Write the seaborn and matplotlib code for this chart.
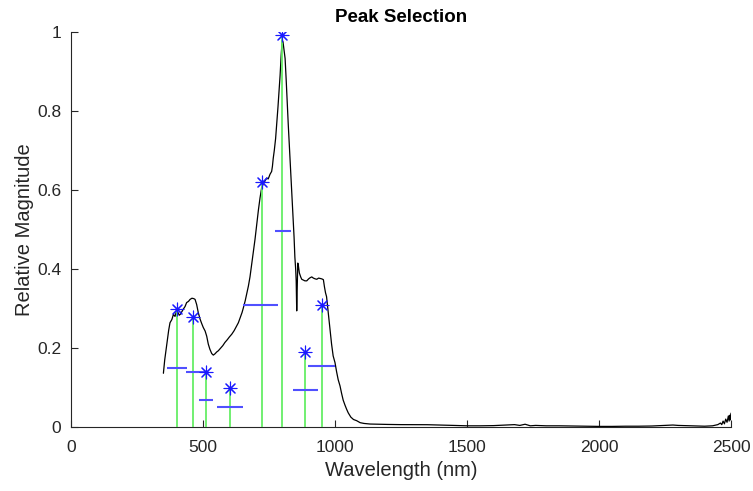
import matplotlib
matplotlib.use("Agg")
import matplotlib.pyplot as plt
import seaborn as sns
import pandas as pd

# spectrum
wavelength = [350, 355, 362, 370, 375, 382, 388, 394, 400, 405, 410, 415, 420, 425,
              432, 438, 445, 451, 458, 465, 470, 476, 482, 489, 495, 501, 508, 514,
              520, 526, 533, 539, 545, 552, 558, 566, 575, 583, 592, 600, 609, 618,
              626, 634, 642, 648, 653, 660, 666, 672, 678, 684, 690, 697, 703, 710,
              716, 722, 728, 734, 741, 747, 754, 760, 763, 766, 770, 775, 779, 784,
              788, 792, 796, 800, 803, 806, 811, 815, 819, 823, 828, 832, 836, 840,
              845, 848, 851, 853, 855, 857, 859, 861, 865, 870, 874, 880, 886, 893,
              900, 906, 912, 918, 925, 931, 938, 944, 950, 956, 960, 964, 968, 972,
              976, 981, 987, 993, 1000, 1006, 1012, 1019, 1025, 1031, 1038, 1044,
              1050, 1060, 1070, 1082, 1095, 1110, 1133, 1160, 1200, 1250, 1300, 1350,
              1400, 1450, 1500, 1550, 1600, 1650, 1680, 1700, 1720, 1740, 1760, 1800,
              1850, 1900, 1950, 2000, 2050, 2100, 2150, 2200, 2250, 2280, 2300, 2350,
              2400, 2430, 2450, 2460, 2465, 2470, 2475, 2480, 2485, 2490, 2493, 2496,
              2498, 2500]
magnitude = [0.136, 0.17, 0.205, 0.245, 0.264, 0.272, 0.285, 0.28, 0.294, 0.29, 0.283,
             0.286, 0.292, 0.298, 0.305, 0.315, 0.318, 0.323, 0.326, 0.325, 0.323, 0.31,
             0.29, 0.273, 0.262, 0.252, 0.243, 0.23, 0.21, 0.197, 0.186, 0.182, 0.185,
             0.19, 0.193, 0.199, 0.206, 0.214, 0.221, 0.228, 0.235, 0.244, 0.254, 0.264,
             0.279, 0.29, 0.302, 0.32, 0.338, 0.357, 0.38, 0.41, 0.44, 0.475, 0.51, 0.55,
             0.58, 0.605, 0.615, 0.622, 0.63, 0.628, 0.64, 0.647, 0.66, 0.68, 0.70, 0.73,
             0.765, 0.81, 0.85, 0.89, 0.94, 0.98, 0.975, 0.96, 0.933, 0.88, 0.82, 0.765,
             0.70, 0.65, 0.597, 0.54, 0.48, 0.43, 0.40, 0.37, 0.294, 0.35, 0.415, 0.41,
             0.39, 0.38, 0.374, 0.372, 0.37, 0.37, 0.375, 0.378, 0.38, 0.377, 0.375,
             0.374, 0.377, 0.376, 0.375, 0.373, 0.355, 0.34, 0.33, 0.305, 0.28, 0.247,
             0.21, 0.18, 0.163, 0.14, 0.12, 0.104, 0.085, 0.068, 0.055, 0.045, 0.036,
             0.025, 0.019, 0.016, 0.011, 0.009, 0.0075, 0.007, 0.0065, 0.006, 0.006,
             0.0058, 0.005, 0.004, 0.003, 0.003, 0.0035, 0.005, 0.006, 0.004, 0.007,
             0.003, 0.004, 0.003, 0.003, 0.0025, 0.002, 0.0015, 0.0015, 0.002, 0.002,
             0.0025, 0.004, 0.005, 0.004, 0.003, 0.002, 0.003, 0.006, 0.01, 0.006,
             0.015, 0.008, 0.02, 0.012, 0.028, 0.015, 0.03, 0.018, 0.035]

# selected peaks
peak_wl = [400, 463, 510, 602, 722, 800, 886, 950]
peak_mag = [0.298, 0.279, 0.138, 0.100, 0.620, 0.993, 0.190, 0.309]

# half-height widths
width_left = [362, 434, 486, 552, 652, 773, 840, 899]
width_right = [440, 520, 539, 653, 784, 833, 937, 1000]
width_height = [0.149, 0.139, 0.069, 0.050, 0.310, 0.496, 0.094, 0.155]

x_ticks = [0, 500, 1000, 1500, 2000, 2500]
y_ticks = [0, 0.2, 0.4, 0.6, 0.8, 1]
y_tick_labels = ["0", "0.2", "0.4", "0.6", "0.8", "1"]

sns.set_style("white")
plt.rcParams['font.family'] = ['Liberation Sans', 'DejaVu Sans']

spec = pd.DataFrame({'Wavelength': wavelength, 'Magnitude': magnitude})
peaks = pd.DataFrame({'Wavelength': peak_wl, 'Magnitude': peak_mag})

fig = plt.figure(figsize=(7.53, 4.91), dpi=100)
ax = fig.add_axes([71/753, 1 - 427/491, 660/753, 395/491])

sns.lineplot(data=spec, x='Wavelength', y='Magnitude', sort=False, color='black',
             linewidth=0.9, ax=ax, zorder=2)
ax.vlines(peak_wl, 0, peak_mag, color='#66ee66', linewidth=1.3, zorder=3)
ax.hlines(width_height, width_left, width_right, color='#5050ff', linewidth=1.5, zorder=4)
sns.scatterplot(data=peaks, x='Wavelength', y='Magnitude', marker=(8, 2, 0), s=85,
                color='#1a1aff', linewidth=0.8, ax=ax, zorder=5)

ax.set_xlim(0, 2500)
ax.set_ylim(0, 1)
ax.set_xticks(x_ticks)
ax.set_yticks(y_ticks)
ax.set_yticklabels(y_tick_labels)
for s in ['top', 'right']:
    ax.spines[s].set_visible(False)
for s in ['left', 'bottom']:
    ax.spines[s].set_color('#262626')
    ax.spines[s].set_linewidth(0.8)
ax.tick_params(bottom=True, left=True, direction='in', length=5, width=0.8,
               color='#262626', labelsize=12.5, labelcolor='#262626')
ax.tick_params(axis='x', pad=9)
ax.tick_params(axis='y', pad=7)
ax.set_xlabel('Wavelength (nm)', fontsize=14.5, color='#262626', labelpad=5)
ax.set_ylabel('Relative Magnitude', fontsize=14.5, color='#262626', labelpad=2)
ax.set_title('Peak Selection', fontsize=13.5, fontweight='bold', color='black', pad=7)

fig.savefig('out.png', dpi=100)
